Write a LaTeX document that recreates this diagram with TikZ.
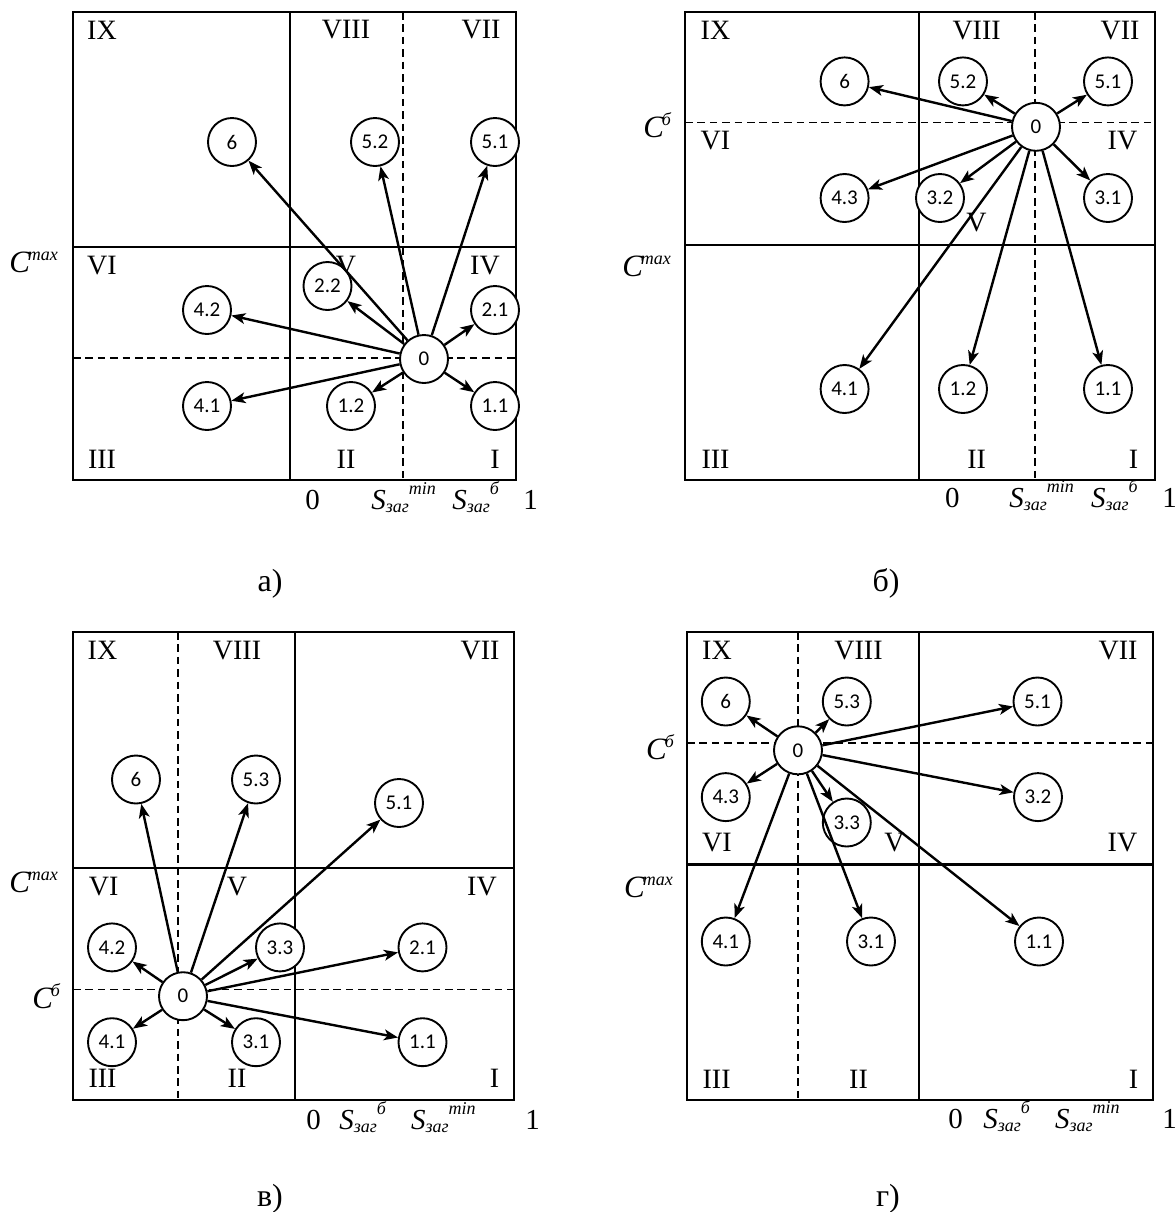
\documentclass[tikz,border=0pt]{standalone}
\usepackage{amsmath}
\usepackage{fontspec}
\setmainfont{Liberation Serif}
\newfontfamily\lblfont{Carlito}
\usetikzlibrary{arrows.meta}
\newcommand{\Szag}[1]{\textit{S}\raisebox{-1.5pt}{\fontsize{9}{9}\selectfont\textit{заг}}\raisebox{7.5pt}{\fontsize{9}{9}\selectfont\textit{#1}}}
\newcommand{\Csup}[1]{\textit{C}\kern-1.2pt\raisebox{6pt}{\fontsize{9}{9}\selectfont\textit{#1}}}
\tikzset{
  frame/.style={line width=1.3pt},
  dline/.style={line width=0.95pt, dash pattern=on 3.8pt off 2.4pt},
  circ/.style={circle, draw, line width=0.95pt, fill=white, minimum size=24pt, inner sep=0pt, font=\lblfont\fontsize{10.5}{12}\selectfont},
  arr/.style={-{Stealth[length=7pt, width=5.4pt, inset=1.8pt]}, line width=1.2pt},
  rom/.style={inner sep=0pt, font=\fontsize{14}{14}\selectfont},
  axl/.style={inner sep=0pt, anchor=base west, font=\fontsize{14.5}{14.5}\selectfont},
  cl/.style={inner sep=0pt, anchor=base west, font=\fontsize{15.5}{15.5}\selectfont},
  capt/.style={inner sep=0pt, anchor=base, font=\fontsize{16}{16}\selectfont}
}
\begin{document}
\begin{tikzpicture}[x=0.5pt, y=-0.5pt]
\useasboundingbox (0,0) rectangle (1175,1212);

% ================= panel a =================
\draw[frame] (73,12) rectangle (516,480);
\draw[frame] (290,12) -- (290,480);
\draw[frame] (73,247) -- (516,247);
\draw[dline] (403,12) -- (403,480);
\draw[dline] (73,358) -- (516,358);
\node[rom] (aIX) at (102,30) {IX};
\node[rom] (aVIII) at (346,30) {VIII};
\node[rom] (aVII) at (481,30) {VII};
\node[rom] (aVI) at (102,266) {VI};
\node[rom] (aV) at (346,266) {V};
\node[rom] (aIV) at (485,266) {IV};
\node[rom] (aIII) at (102,459) {III};
\node[rom] (aII) at (346,459) {II};
\node[rom] (aI) at (495,459) {I};
\node[cl] (aCmax) at (9,272) {\Csup{max}};
\node[axl] (ax0) at (305,509) {0};
\node[axl] (axmin) at (371,509) {\Szag{min}};
\node[axl] (axb) at (452,509) {\Szag{б}};
\node[axl] (ax1) at (523,509) {1};
\node[capt] (acap) at (270,591) {а)};
\node[circ] (a6) at (232,142) {6};
\node[circ] (a52) at (375,142) {5.2};
\node[circ] (a51) at (495,142) {5.1};
\node[circ] (a22) at (327.5,286) {2.2};
\node[circ] (a42) at (207,310) {4.2};
\node[circ] (a21) at (495,310) {2.1};
\node[circ] (a0) at (424,359) {0};
\node[circ] (a41) at (207,406) {4.1};
\node[circ] (a12) at (351,406) {1.2};
\node[circ] (a11) at (495,406) {1.1};
\foreach \t in {a6,a52,a51,a22,a42,a21,a41,a12,a11} \draw[arr] (a0) -- (\t);

% ================= panel b =================
\draw[frame] (685,12) rectangle (1155,480);
\draw[frame] (919,12) -- (919,480);
\draw[frame] (685,245) -- (1155,245);
\draw[dline] (1035,12) -- (1035,480);
\draw[dline] (685,122.5) -- (1155,122.5);
\node[rom] (bIX) at (715.5,30.4) {IX};
\node[rom] (bVIII) at (976.6,30.4) {VIII};
\node[rom] (bVII) at (1120,30.4) {VII};
\node[rom] (bVI) at (715.5,141) {VI};
\node[rom] (bIV) at (1122.5,141) {IV};
\node[rom] (bV) at (976.6,223) {V};
\node[rom] (bIII) at (715.5,459) {III};
\node[rom] (bII) at (976.6,459) {II};
\node[rom] (bI) at (1133.5,459) {I};
\node[cl] (bCb) at (643,137) {\Csup{б}};
\node[cl] (bCmax) at (622,276.8) {\Csup{max}};
\node[axl] (bx0) at (944.7,507) {0};
\node[axl] (bxmin) at (1009,507) {\Szag{min}};
\node[axl] (bxb) at (1090.6,507) {\Szag{б}};
\node[axl] (bx1) at (1162,507) {1};
\node[capt] (bcap) at (886,591) {б)};
\node[circ] (b6) at (844.6,81.4) {6};
\node[circ] (b52) at (963,81.4) {5.2};
\node[circ] (b51) at (1108,81.4) {5.1};
\node[circ] (b0) at (1036,126.8) {0};
\node[circ] (b43) at (844.6,198) {4.3};
\node[circ] (b32) at (940,198) {3.2};
\node[circ] (b31) at (1108,198) {3.1};
\node[circ] (b41) at (844.6,389) {4.1};
\node[circ] (b12) at (963,389) {1.2};
\node[circ] (b11) at (1108,389) {1.1};
\foreach \t in {b6,b52,b51,b43,b32,b31,b41,b12,b11} \draw[arr] (b0) -- (\t);

% ================= panel c =================
\draw[frame] (73,632) rectangle (514,1100);
\draw[frame] (295,632) -- (295,1100);
\draw[frame] (73,867.8) -- (514,867.8);
\draw[dline] (178,632) -- (178,1100);
\draw[dline] (73,989.5) -- (514,989.5);
\node[rom] (cIX) at (102.5,650.7) {IX};
\node[rom] (cVIII) at (237,650.7) {VIII};
\node[rom] (cVII) at (480,650.7) {VII};
\node[rom] (cVI) at (103.6,886.9) {VI};
\node[rom] (cV) at (237,886.9) {V};
\node[rom] (cIV) at (482,886.9) {IV};
\node[rom] (cIII) at (102.5,1078) {III};
\node[rom] (cII) at (237,1078) {II};
\node[rom] (cI) at (494.6,1078) {I};
\node[cl] (cCmax) at (9,892.7) {\Csup{max}};
\node[cl] (cCb) at (32,1008) {\Csup{б}};
\node[axl] (cx0) at (306,1129) {0};
\node[axl] (cxb) at (339,1129) {\Szag{б}};
\node[axl] (cxmin) at (410.7,1129) {\Szag{min}};
\node[axl] (cx1) at (525,1129) {1};
\node[capt] (ccap) at (270,1206) {в)};
\node[circ] (c6) at (136,779.5) {6};
\node[circ] (c53) at (256,779.5) {5.3};
\node[circ] (c51) at (399,803) {5.1};
\node[circ] (c42) at (112,947.4) {4.2};
\node[circ] (c33) at (280,947.4) {3.3};
\node[circ] (c21) at (422.5,947.4) {2.1};
\node[circ] (c0) at (183,996.2) {0};
\node[circ] (c41) at (112,1042.2) {4.1};
\node[circ] (c31) at (256,1042.2) {3.1};
\node[circ] (c11) at (422.5,1042.2) {1.1};
\foreach \t in {c6,c53,c51,c42,c33,c21,c41,c31,c11} \draw[arr] (c0) -- (\t);

% ================= panel d =================
\draw[frame] (687,632) rectangle (1153,1100);
\draw[frame] (919,632) -- (919,1100);
\draw[frame] (687,864.6) -- (1153,864.6);
\draw[dline] (798,632) -- (798,1100);
\draw[dline] (687,743) -- (1153,743);
\node[rom] (dIX) at (717,650.7) {IX};
\node[rom] (dVIII) at (858.5,650.7) {VIII};
\node[rom] (dVII) at (1118,650.7) {VII};
\node[rom] (dVI) at (717,842.8) {VI};
\node[rom] (dV) at (894.5,842.8) {V};
\node[rom] (dIV) at (1122.5,842.8) {IV};
\node[rom] (dIII) at (716.6,1079.3) {III};
\node[rom] (dII) at (858.5,1079.3) {II};
\node[rom] (dI) at (1133.5,1079.3) {I};
\node[cl] (dCb) at (645.8,759) {\Csup{б}};
\node[cl] (dCmax) at (623.8,897.4) {\Csup{max}};
\node[axl] (dx0) at (948,1128) {0};
\node[axl] (dxb) at (983,1128) {\Szag{б}};
\node[axl] (dxmin) at (1054.7,1128) {\Szag{min}};
\node[axl] (dx1) at (1162,1128) {1};
\node[capt] (dcap) at (888,1206) {г)};
\node[circ] (d6) at (725.8,701.5) {6};
\node[circ] (d53) at (846.8,701.5) {5.3};
\node[circ] (d51) at (1037.5,701.5) {5.1};
\node[circ] (d0) at (798,750.3) {0};
\node[circ] (d43) at (725.8,797.1) {4.3};
\node[circ] (d32) at (1038,797.1) {3.2};
\node[circ] (d33) at (846.8,822.5) {3.3};
\node[circ] (d41) at (725.8,941.5) {4.1};
\node[circ] (d31) at (871,941.5) {3.1};
\node[circ] (d11) at (1039,941.5) {1.1};
\foreach \t in {d6,d53,d51,d43,d32,d33,d41,d31,d11} \draw[arr] (d0) -- (\t);
\end{tikzpicture}
\end{document}
